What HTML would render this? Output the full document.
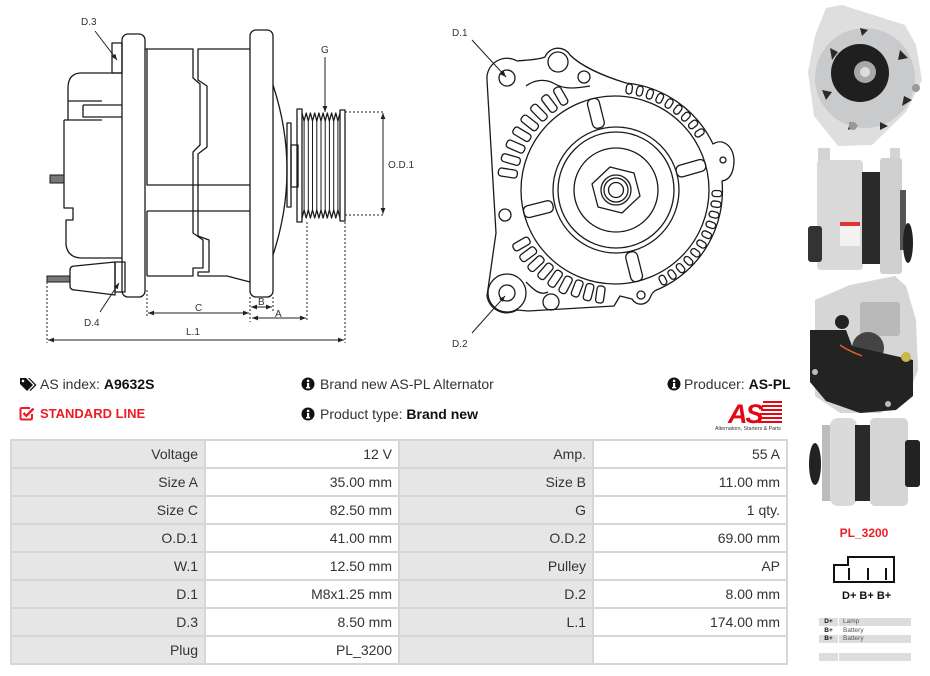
<!DOCTYPE html>
<html><head><meta charset="utf-8">
<style>
html,body{margin:0;padding:0;background:#fff;}
body{width:930px;height:676px;position:relative;overflow:hidden;font-family:"Liberation Sans",Arial,sans-serif;color:#333;}
.abs{position:absolute;white-space:nowrap;}
.info{font-size:14px;line-height:16px;color:#333;}
.info b{color:#111;}
.tbl{position:absolute;left:10px;top:439px;width:774px;height:222px;padding:2px;background:#d6d6d6;display:grid;grid-template-columns:192px 192px 192px 192px;grid-template-rows:repeat(8,26px);gap:2px;}
.tbl div{font-size:14px;line-height:27px;text-align:right;padding-right:6px;color:#333;}
.l{background:#e6e6e6;}
.v{background:#fff;}
</style></head>
<body>

<svg class="abs" style="left:0;top:0" width="800" height="360" viewBox="0 0 800 360">
<defs>
<marker id="ah" viewBox="0 0 10 10" refX="10" refY="5" markerWidth="6" markerHeight="6" orient="auto-start-reverse"><path d="M0,1 L10,5 L0,9 z" fill="#222"/></marker>
</defs>
<g fill="none" stroke="#1a1a1a" stroke-width="1.3" stroke-linejoin="round">
  <path d="M122,73 H80 Q68,74 68,88 V120"/>
  <path d="M68,101 H102 M64,120 H102 M83,105 H122 M83,105 V117 H122"/>
  <path d="M64,120 V208 H73 V220 H66 V245 Q68,258 82,258 H122"/>
  <rect x="50" y="175" width="14" height="8" fill="#777" stroke-width="1"/>
  <rect x="112" y="43" width="10" height="30"/>
  <rect x="122" y="34" width="23" height="263" rx="6"/>
  <rect x="47" y="276" width="23" height="6" fill="#777" stroke-width="1"/>
  <path d="M70,270 Q70,266 75,266 L115,262 V295 L75,290 Q70,290 70,286 Z"/>
  <rect x="115" y="262" width="10" height="30"/>
  <path d="M145,49 H193 V78 L200,84 V145 L193,152 V233 L203,240 V268 H193 V276 H147"/>
  <path d="M250,49 H198 V80 L207,86 V147 L198,154 V236 L209,240 V272 H198 V276 H227 L250,282"/>
  <path d="M147,49 V185 H250 M147,211 H250 M147,211 V276"/>
  <rect x="250" y="30" width="23" height="267" rx="6"/>
  <path d="M273,85 Q301,170 273,255"/>
  <rect x="287" y="123" width="4" height="84"/>
  <rect x="291" y="145" width="7" height="42"/>
  <rect x="297" y="109" width="5" height="113"/>
  <rect x="340" y="110" width="5" height="111"/>
  <polyline points="302,113 304.1,121 306.2,113 308.3,121 310.4,113 312.5,121 314.7,113 316.8,121 318.9,113 321,121 323.1,113 325.2,121 327.3,113 329.4,121 331.6,113 333.7,121 335.8,113 337.9,121 340,113"/>
  <polyline points="302,218 304.1,210 306.2,218 308.3,210 310.4,218 312.5,210 314.7,218 316.8,210 318.9,218 321,210 323.1,218 325.2,210 327.3,218 329.4,210 331.6,218 333.7,210 335.8,218 337.9,210 340,218"/>
  <path d="M304.1,121 V210 M308.3,121 V210 M312.5,121 V210 M316.8,121 V210 M321,121 V210 M325.2,121 V210 M329.4,121 V210 M333.7,121 V210 M337.9,121 V210" stroke-width="1"/>
</g>
<g fill="none" stroke="#222" stroke-width="1">
  <path d="M345,112 H383 M345,215 H383 M147,290 V316 M250,297 V322 M273,297 V312 M307,222 V322 M345,222 V343 M47,282 V343" stroke-dasharray="2,2"/>
  <line x1="383" y1="113" x2="383" y2="214" marker-start="url(#ah)" marker-end="url(#ah)"/>
  <line x1="325" y1="57" x2="325" y2="112" marker-end="url(#ah)"/>
  <line x1="148" y1="313" x2="249" y2="313" marker-start="url(#ah)" marker-end="url(#ah)"/>
  <line x1="251" y1="307" x2="272" y2="307" marker-start="url(#ah)" marker-end="url(#ah)"/>
  <line x1="252" y1="318" x2="306" y2="318" marker-start="url(#ah)" marker-end="url(#ah)"/>
  <line x1="48" y1="340" x2="344" y2="340" marker-start="url(#ah)" marker-end="url(#ah)"/>
  <line x1="95" y1="31" x2="117" y2="60" marker-end="url(#ah)"/>
  <line x1="100" y1="312" x2="119" y2="283" marker-end="url(#ah)"/>
  <line x1="472" y1="40" x2="506" y2="77" marker-end="url(#ah)"/>
  <line x1="472" y1="333" x2="505" y2="296" marker-end="url(#ah)"/>
</g>
<g font-family="Liberation Sans, Arial, sans-serif" font-size="10" fill="#333">
  <text x="81" y="25">D.3</text>
  <text x="84" y="326">D.4</text>
  <text x="321" y="53">G</text>
  <text x="388" y="168">O.D.1</text>
  <text x="195" y="311">C</text>
  <text x="258" y="305">B</text>
  <text x="275" y="317">A</text>
  <text x="186" y="335">L.1</text>
  <text x="452" y="36">D.1</text>
  <text x="452" y="347">D.2</text>
</g>

<g fill="none" stroke="#1a1a1a" stroke-width="1.3" stroke-linejoin="round">
  <path d="M626,83 A108,108 0 0 1 713,144 C722,138 733,145 734,160 C734,172 730,180 722,181 A108,108 0 0 1 659,289 C652,291 651,296 650,298 A10,10 0 0 1 632,299 L620,296 L614,306 L528,311 L517,310 A20,20 0 0 1 487,296 L496,233 L487,80 A20,20 0 0 1 517,61 C525,60 538,60 545,57 A14,14 0 0 1 570,55 C580,65 600,75 626,83 Z"/>
  <path d="M526,86 C534,80 545,78 555,84 C565,90 578,88 590,86"/>
  <path d="M526,282 C534,290 540,296 548,292"/>
  <circle cx="507" cy="78" r="8"/>
  <circle cx="507" cy="293" r="8"/>
  <circle cx="507" cy="293" r="19"/>
  <circle cx="558" cy="62" r="10"/>
  <circle cx="584" cy="77" r="6"/>
  <circle cx="505" cy="215" r="6"/>
  <circle cx="551" cy="302" r="8"/>
  <circle cx="641" cy="295" r="4"/>
  <circle cx="723" cy="160" r="3"/>
  <circle cx="615" cy="190" r="94"/>
  <circle cx="616" cy="190" r="63"/>
  <circle cx="616" cy="190" r="58"/>
  <circle cx="616" cy="190" r="42"/>
  <polygon points="640,196 622,213 598,207 592,184 610,167 634,173"/>
  <circle cx="616" cy="190" r="15"/>
  <circle cx="616" cy="190" r="12"/>
  <circle cx="616" cy="190" r="7.5"/>
  <g transform="translate(615,190)">
    <rect transform="rotate(-104)" x="64" y="-6" width="30" height="12" rx="5"/>
    <rect transform="rotate(-16)" x="64" y="-6" width="30" height="12" rx="5"/>
    <rect transform="rotate(76)" x="64" y="-6" width="30" height="12" rx="5"/>
    <rect transform="rotate(166)" x="64" y="-6" width="30" height="12" rx="5"/>
    <rect transform="rotate(189)" x="99" y="-4" width="19" height="8" rx="3"/>
    <rect transform="rotate(196.3)" x="99" y="-4" width="19" height="8" rx="3"/>
    <rect transform="rotate(203.6)" x="99" y="-4" width="19" height="8" rx="3"/>
    <rect transform="rotate(210.9)" x="99" y="-4" width="19" height="8" rx="3"/>
    <rect transform="rotate(218.2)" x="99" y="-4" width="19" height="8" rx="3"/>
    <rect transform="rotate(225.5)" x="99" y="-4" width="19" height="8" rx="3"/>
    <rect transform="rotate(232.8)" x="99" y="-4" width="19" height="8" rx="3"/>
    <rect transform="rotate(240)" x="99" y="-4" width="19" height="8" rx="3"/>
    <rect transform="rotate(98)" x="97" y="-4" width="17" height="8" rx="3"/>
    <rect transform="rotate(104.5)" x="97" y="-4" width="17" height="8" rx="3"/>
    <rect transform="rotate(111)" x="97" y="-4" width="17" height="8" rx="3"/>
    <rect transform="rotate(117.5)" x="98" y="-4" width="18" height="8" rx="3"/>
    <rect transform="rotate(124)" x="98" y="-4" width="18" height="8" rx="3"/>
    <rect transform="rotate(130.5)" x="98" y="-4" width="18" height="8" rx="3"/>
    <rect transform="rotate(137)" x="99" y="-4" width="18" height="8" rx="3"/>
    <rect transform="rotate(143.5)" x="99" y="-4" width="18" height="8" rx="3"/>
    <rect transform="rotate(150)" x="99" y="-4" width="18" height="8" rx="3"/>
    <rect transform="rotate(-82)" x="97" y="-3" width="10" height="6" rx="3"/>
    <rect transform="rotate(-76)" x="97" y="-3" width="10" height="6" rx="3"/>
    <rect transform="rotate(-70)" x="97" y="-3" width="10" height="6" rx="3"/>
    <rect transform="rotate(-64)" x="97" y="-3" width="10" height="6" rx="3"/>
    <rect transform="rotate(-58)" x="97" y="-3" width="10" height="6" rx="3"/>
    <rect transform="rotate(-52)" x="97" y="-3" width="10" height="6" rx="3"/>
    <rect transform="rotate(-46)" x="97" y="-3" width="10" height="6" rx="3"/>
    <rect transform="rotate(-40)" x="97" y="-3" width="10" height="6" rx="3"/>
    <rect transform="rotate(-34)" x="97" y="-3" width="10" height="6" rx="3"/>
    <rect transform="rotate(2)" x="97" y="-3" width="10" height="6" rx="3"/>
    <rect transform="rotate(8)" x="97" y="-3" width="10" height="6" rx="3"/>
    <rect transform="rotate(14)" x="97" y="-3" width="10" height="6" rx="3"/>
    <rect transform="rotate(20)" x="97" y="-3" width="10" height="6" rx="3"/>
    <rect transform="rotate(26)" x="97" y="-3" width="10" height="6" rx="3"/>
    <rect transform="rotate(32)" x="97" y="-3" width="10" height="6" rx="3"/>
    <rect transform="rotate(38)" x="97" y="-3" width="10" height="6" rx="3"/>
    <rect transform="rotate(44)" x="97" y="-3" width="10" height="6" rx="3"/>
    <rect transform="rotate(50)" x="97" y="-3" width="10" height="6" rx="3"/>
    <rect transform="rotate(56)" x="97" y="-3" width="10" height="6" rx="3"/>
    <rect transform="rotate(62)" x="97" y="-3" width="10" height="6" rx="3"/>
  </g>
</g>
</svg>

<svg class="abs" style="left:800px;top:0" width="130" height="520" viewBox="800 0 130 520">
  <polygon points="826,8 842,5 905,25 916,45 922,80 906,112 872,145 838,146 814,116 808,72 815,36" fill="#dedede"/>
  <circle cx="865" cy="78" r="50" fill="#c8cacc"/>
  <g fill="#2a2a2a">
    <polygon points="830,48 838,52 832,60"/><polygon points="900,50 908,58 898,60"/>
    <polygon points="822,90 832,92 826,100"/><polygon points="904,96 912,100 902,106"/>
    <polygon points="850,122 858,126 848,130"/><polygon points="880,122 888,126 880,130"/>
    <polygon points="860,28 868,30 862,36"/>
  </g>
  <circle cx="860" cy="73" r="29" fill="#1f1f1f"/>
  <circle cx="865" cy="72" r="11" fill="#a8a8a8"/>
  <circle cx="865" cy="72" r="5" fill="#dcdcdc"/>
  <circle cx="916" cy="88" r="4" fill="#999"/>
  <circle cx="853" cy="126" r="4" fill="#999"/>
  <rect x="818" y="148" width="12" height="18" fill="#d4d4d4"/>
  <rect x="890" y="148" width="10" height="14" fill="#d4d4d4"/>
  <rect x="817" y="160" width="46" height="110" rx="4" fill="#d9d9d9"/>
  <rect x="808" y="226" width="14" height="36" rx="3" fill="#333"/>
  <rect x="862" y="172" width="20" height="92" fill="#2a2a2a"/>
  <rect x="880" y="158" width="22" height="116" rx="3" fill="#d0d0d0"/>
  <rect x="900" y="190" width="6" height="60" fill="#555"/>
  <ellipse cx="908" cy="243" rx="5" ry="20" fill="#222"/>
  <rect x="840" y="222" width="20" height="24" fill="#f2f2f2"/>
  <rect x="840" y="222" width="20" height="4" fill="#d33"/>
  <polygon points="815,300 850,285 895,276 906,286 916,320 918,370 906,400 880,413 840,413 815,396" fill="#d6d6d6"/>
  <rect x="860" y="302" width="40" height="34" rx="3" fill="#b9b9b9"/>
  <circle cx="842" cy="322" r="7" fill="#222"/>
  <circle cx="868" cy="348" r="16" fill="#444"/>
  <polygon points="810,330 846,330 852,346 913,360 913,396 896,410 860,413 826,401 810,382" fill="#232323"/>
  <path d="M840,345 C850,352 858,354 862,356" stroke="#e0602a" stroke-width="1.5" fill="none"/>
  <circle cx="906" cy="357" r="5" fill="#c8b84a"/>
  <circle cx="815" cy="372" r="3" fill="#bbb"/>
  <circle cx="888" cy="404" r="3" fill="#bbb"/>
  <ellipse cx="815" cy="464" rx="6" ry="21" fill="#222"/>
  <rect x="822" y="425" width="10" height="76" fill="#bcbcbc"/>
  <rect x="830" y="418" width="27" height="88" rx="8" fill="#dadada"/>
  <rect x="855" y="425" width="17" height="76" fill="#2a2a2a"/>
  <rect x="870" y="418" width="38" height="88" rx="5" fill="#d5d5d5"/>
  <rect x="905" y="440" width="15" height="47" rx="3" fill="#222"/>
</svg>

<div class="abs" style="left:834px;top:526px;width:60px;text-align:center;font-size:12px;line-height:14px;font-weight:bold;color:#ee1c25;">PL_3200</div>
<svg class="abs" style="left:830px;top:553px" width="70" height="50" viewBox="830 553 70 50">
  <path d="M848,557 H894 V582 H834 V565 H848 Z" fill="none" stroke="#111" stroke-width="2"/>
  <path d="M849,568 V580 M868,568 V580 M886,568 V580" stroke="#111" stroke-width="2"/>
</svg>
<div class="abs" style="left:842px;top:590px;font-size:11px;line-height:12px;font-weight:bold;color:#111;">D+ B+ B+</div>
<div class="abs" style="left:819px;top:618px;width:19px;height:8px;background:#ddd;"></div>
<div class="abs" style="left:839px;top:618px;width:72px;height:8px;background:#ddd;"></div>
<div class="abs" style="left:819px;top:635px;width:19px;height:8px;background:#ddd;"></div>
<div class="abs" style="left:839px;top:635px;width:72px;height:8px;background:#ddd;"></div>
<div class="abs" style="left:819px;top:653px;width:19px;height:8px;background:#ddd;"></div>
<div class="abs" style="left:839px;top:653px;width:72px;height:8px;background:#ddd;"></div>
<div class="abs" style="left:819px;top:618px;width:19px;font-size:6.5px;line-height:8.5px;text-align:center;font-weight:bold;color:#111;">D+<br>B+<br>B+</div>
<div class="abs" style="left:843px;top:618px;font-size:6.5px;line-height:8.5px;color:#555;">Lamp<br>Battery<br>Battery</div>

<svg class="abs" style="left:19px;top:377px" width="18" height="15" viewBox="0 0 18 15">
  <path d="M1,1 H7 L14,8 L8,14 L1,7 Z" fill="#111"/><circle cx="4" cy="4" r="1.3" fill="#fff"/>
  <path d="M9,1 H10.5 L17.5,8 L11.5,14 L10.6,13.1 L15.7,8 Z" fill="#111"/>
</svg>
<div class="abs info" style="left:40px;top:376px;">AS index: <b>A9632S</b></div>
<svg class="abs" style="left:19px;top:406px" width="16" height="15" viewBox="0 0 16 15">
  <path d="M11,2 H3 Q1.5,2 1.5,3.5 V12 Q1.5,13.5 3,13.5 H11.5 Q13,13.5 13,12 V8" fill="none" stroke="#ee1c25" stroke-width="2"/>
  <path d="M4.5,7 L7.3,9.8 L14.5,2.6" fill="none" stroke="#ee1c25" stroke-width="2.4"/>
</svg>
<div class="abs" style="left:40px;top:406px;font-size:13px;line-height:16px;font-weight:bold;color:#ee1c25;">STANDARD LINE</div>

<svg class="abs" style="left:301px;top:377px" width="14" height="14" viewBox="0 0 14 14"><circle cx="7" cy="7" r="6.5" fill="#111"/><rect x="6" y="6" width="2.2" height="5" fill="#fff"/><rect x="5" y="10" width="4.2" height="1.4" fill="#fff"/><circle cx="7.1" cy="3.9" r="1.3" fill="#fff"/></svg>
<div class="abs info" style="left:320px;top:376px;">Brand new AS-PL Alternator</div>
<svg class="abs" style="left:301px;top:407px" width="14" height="14" viewBox="0 0 14 14"><circle cx="7" cy="7" r="6.5" fill="#111"/><rect x="6" y="6" width="2.2" height="5" fill="#fff"/><rect x="5" y="10" width="4.2" height="1.4" fill="#fff"/><circle cx="7.1" cy="3.9" r="1.3" fill="#fff"/></svg>
<div class="abs info" style="left:320px;top:406px;">Product type: <b>Brand new</b></div>
<svg class="abs" style="left:667px;top:377px" width="14" height="14" viewBox="0 0 14 14"><circle cx="7" cy="7" r="6.5" fill="#111"/><rect x="6" y="6" width="2.2" height="5" fill="#fff"/><rect x="5" y="10" width="4.2" height="1.4" fill="#fff"/><circle cx="7.1" cy="3.9" r="1.3" fill="#fff"/></svg>
<div class="abs info" style="left:684px;top:376px;">Producer: <b>AS-PL</b></div>

<svg class="abs" style="left:712px;top:398px" width="82" height="36" viewBox="712 398 82 36">
  <g fill="#e30613">
    <rect x="763" y="401" width="19" height="2"/>
    <rect x="762" y="405" width="20" height="2"/>
    <rect x="761" y="409" width="21" height="2"/>
    <rect x="760" y="413" width="22" height="2"/>
    <rect x="759" y="417" width="23" height="2"/>
    <rect x="758" y="421" width="24" height="2"/>
  </g>
  <text x="728" y="423" font-family="Liberation Sans, Arial, sans-serif" font-size="27" font-weight="bold" font-style="italic" fill="#e30613" letter-spacing="-2">AS</text>
  <text x="715" y="430" font-family="Liberation Sans, Arial, sans-serif" font-size="5.3" fill="#333">Alternators, Starters &amp; Parts</text>
</svg>

<div class="tbl">
  <div class="l">Voltage</div><div class="v">12 V</div><div class="l">Amp.</div><div class="v">55 A</div>
  <div class="l">Size A</div><div class="v">35.00 mm</div><div class="l">Size B</div><div class="v">11.00 mm</div>
  <div class="l">Size C</div><div class="v">82.50 mm</div><div class="l">G</div><div class="v">1 qty.</div>
  <div class="l">O.D.1</div><div class="v">41.00 mm</div><div class="l">O.D.2</div><div class="v">69.00 mm</div>
  <div class="l">W.1</div><div class="v">12.50 mm</div><div class="l">Pulley</div><div class="v">AP</div>
  <div class="l">D.1</div><div class="v">M8x1.25 mm</div><div class="l">D.2</div><div class="v">8.00 mm</div>
  <div class="l">D.3</div><div class="v">8.50 mm</div><div class="l">L.1</div><div class="v">174.00 mm</div>
  <div class="l">Plug</div><div class="v">PL_3200</div><div class="l"></div><div class="v"></div>
</div>

</body></html>
